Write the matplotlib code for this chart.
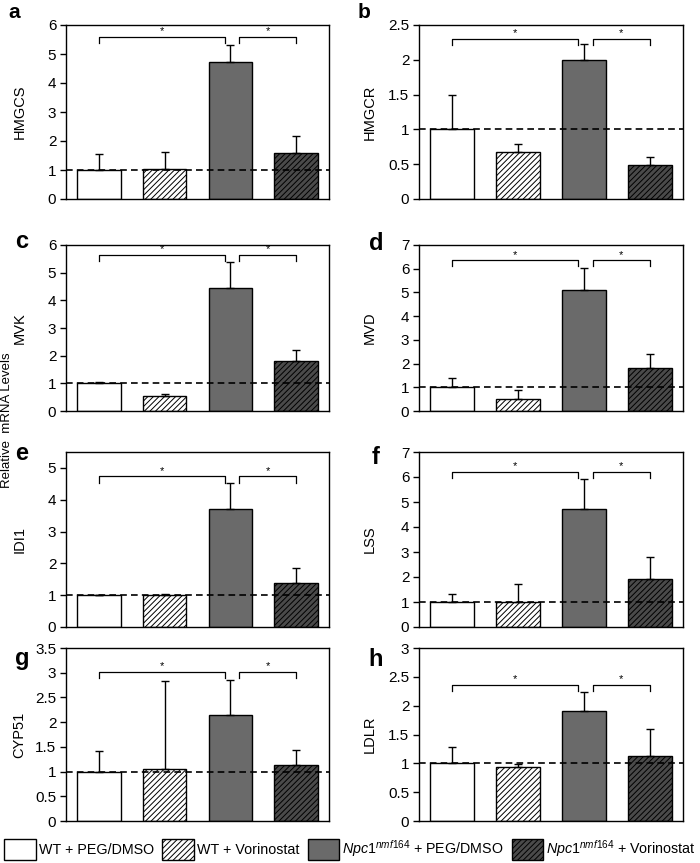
import matplotlib
matplotlib.use('Agg')
import matplotlib.pyplot as plt
import matplotlib.patches as mpatches
import numpy as np

plt.rcParams['font.family'] = ['Liberation Sans', 'DejaVu Sans']
plt.rcParams['mathtext.fontset'] = 'custom'
plt.rcParams['mathtext.rm'] = 'Liberation Sans'
plt.rcParams['mathtext.it'] = 'Liberation Sans:italic'
plt.rcParams['hatch.linewidth'] = 0.7

# groups (legend labels)
groups = ['WT + PEG/DMSO', 'WT + Vorinostat',
          r'$\mathit{Npc1}^{\mathit{nmf164}}$ + PEG/DMSO',
          r'$\mathit{Npc1}^{\mathit{nmf164}}$ + Vorinostat']

genes = ['HMGCS', 'HMGCR', 'MVK', 'MVD', 'IDI1', 'LSS', 'CYP51', 'LDLR']
letters = ['a', 'b', 'c', 'd', 'e', 'f', 'g', 'h']

# relative mRNA level (mean) and upper error per group
hmgcs = [1.0, 1.05, 4.72, 1.58]
hmgcs_err = [0.55, 0.57, 0.60, 0.58]
hmgcr = [1.0, 0.67, 2.0, 0.49]
hmgcr_err = [0.49, 0.115, 0.22, 0.115]
mvk = [1.0, 0.53, 4.43, 1.81]
mvk_err = [0.06, 0.08, 0.95, 0.40]
mvd = [1.0, 0.50, 5.10, 1.82]
mvd_err = [0.40, 0.40, 0.95, 0.57]
idi1 = [1.0, 1.01, 3.71, 1.38]
idi1_err = [0.01, 0.03, 0.83, 0.47]
lss = [1.0, 0.99, 4.71, 1.92]
lss_err = [0.31, 0.73, 1.23, 0.89]
cyp51 = [1.0, 1.05, 2.15, 1.14]
cyp51_err = [0.41, 1.78, 0.71, 0.30]
ldlr = [1.0, 0.94, 1.90, 1.13]
ldlr_err = [0.29, 0.04, 0.33, 0.47]

means = [hmgcs, hmgcr, mvk, mvd, idi1, lss, cyp51, ldlr]
errs = [hmgcs_err, hmgcr_err, mvk_err, mvd_err, idi1_err, lss_err, cyp51_err, ldlr_err]

ymax = [6, 2.5, 6, 7, 5.5, 7, 3.5, 3]
ystep = [1, 0.5, 1, 1, 1, 1, 0.5, 0.5]
# height of significance brackets (fraction of axis)
brk = [0.93, 0.92, 0.94, 0.907, 0.86, 0.884, 0.862, 0.785]
# vertical offset of panel letter from top of axis (px)
letter_dy = [0, 0, -4, -2, 1, 5, 10, 11]

faces = ['white', 'white', '#6a6a6a', '#4a4a4a']
hatches = [None, '//////', None, '//////']

W, H = 700, 863
fig = plt.figure(figsize=(7, 8.63), dpi=100)

cols = [(66, 329), (419, 683)]
rows = [(25, 199), (245, 411), (452, 627), (648, 821)]

x = np.arange(4)
for i in range(8):
    r, c = divmod(i, 2)
    x0, x1 = cols[c]
    t, b = rows[r]
    ax = fig.add_axes([x0 / W, 1 - b / H, (x1 - x0) / W, (b - t) / H])
    ax.bar(x, means[i], width=0.66, color=faces, edgecolor='black',
           linewidth=1.0, hatch=hatches, zorder=2)
    ax.errorbar(x, means[i], yerr=[np.zeros(4), errs[i]], fmt='none',
                ecolor='black', elinewidth=1.0, capsize=2.8, capthick=1.0, zorder=3)
    ax.axhline(1, color='black', ls=(0, (4, 2.5)), lw=1.2, zorder=4)
    ax.set_xlim(-0.5, 3.5)
    ax.set_ylim(0, ymax[i])
    ax.set_yticks(np.arange(0, ymax[i] + 0.01, ystep[i]))
    ax.yaxis.set_major_formatter(matplotlib.ticker.FuncFormatter(lambda v, p: '%g' % v))
    ax.set_xticks([])
    ax.tick_params(axis='y', length=4, width=1, labelsize=11, pad=3)
    for s in ax.spines.values():
        s.set_linewidth(1.0)
    ax.set_ylabel(genes[i], fontsize=10.5)
    ax.yaxis.set_label_coords(-0.15 if c == 0 else -0.16, 0.5)

    # significance brackets
    yb = brk[i] * ymax[i]
    dy = 0.035 * ymax[i]
    for xa, xb in [(0, 1.915), (2.13, 3.0)]:
        ax.plot([xa, xa, xb, xb], [yb - dy, yb, yb, yb - dy], color='black', lw=0.9,
                clip_on=False, zorder=5)
        ax.text((xa + xb) / 2, yb + 0.005 * ymax[i], '*', ha='center', va='bottom',
                fontsize=8)

    # panel letter
    if r == 0:
        fig.text((8 + c * 350) / W, 1 - 12 / H, letters[i], fontsize=15, fontweight='bold',
                 ha='left', va='center')
    else:
        fig.text((22 + c * 354) / W, 1 - (t + letter_dy[i]) / H, letters[i], fontsize=17,
                 fontweight='bold', ha='center', va='center')

fig.text(7 / W, 1 - 420 / H, 'Relative  mRNA Levels', rotation=90, fontsize=9.5,
         ha='center', va='center')

handles = [mpatches.Patch(facecolor=faces[k], edgecolor='black', hatch=hatches[k], lw=1.0)
           for k in range(4)]
fig.legend(handles, groups, loc='center', bbox_to_anchor=(0.5, 1 - 849 / H), ncol=4,
           frameon=False, fontsize=10.3, handlelength=2.2, handleheight=1.8,
           handletextpad=0.2, columnspacing=0.6, borderaxespad=0, borderpad=0)

fig.savefig('out.png', dpi=100)
